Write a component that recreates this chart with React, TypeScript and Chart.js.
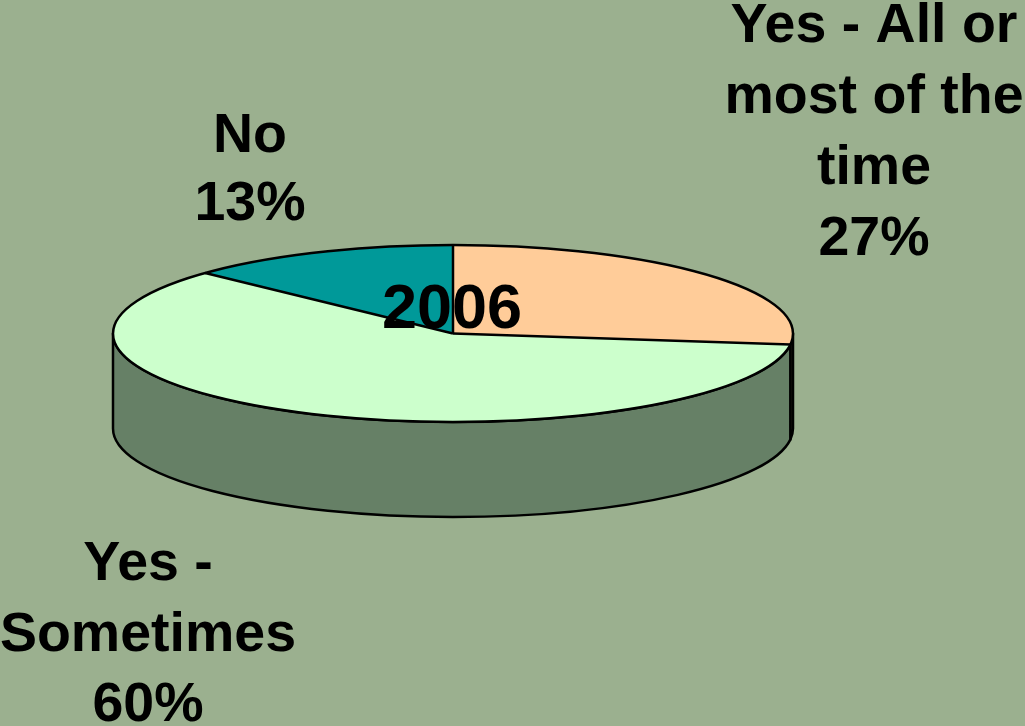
import React, { useEffect, useRef } from "react";
import { Chart, registerables } from "chart.js";

Chart.register(...registerables);

// ---- data ----
const categories = ["Yes - All or most of the time", "Yes - Sometimes", "No"];
const values = [27, 60, 13];
const labelLines = [
  ["Yes - All or", "most of the", "time"],
  ["Yes -", "Sometimes"],
  ["No"],
];
const title = "2006";

// ---- style ----
const W = 1025;
const H = 726;
const BG = "#9bb08f";
const sliceColors = ["#ffcc99", "#ccffcc", "#009999"];
const sideColors = ["#806650", "#668066", "#004c4c"];
const CX = 453;
const CY = 333.5;
const RX = 340;
const RY = 88.5;
const DEPTH = 95;
const FONT = 'bold 55.5px "Liberation Sans", Arial, sans-serif';
const TITLE_FONT = 'bold 63px "Liberation Sans", Arial, sans-serif';
const labelPos = [
  { x: 874, y: 42, lh: 71 },
  { x: 148, y: 580, lh: 70.5 },
  { x: 250, y: 152, lh: 68 },
];

function frontIntervals(s: number, e: number): [number, number][] {
  const out: [number, number][] = [];
  for (const k of [-2, 0, 2]) {
    const lo = Math.max(s, k * Math.PI);
    const hi = Math.min(e, (k + 1) * Math.PI);
    if (hi > lo) out.push([lo - k * Math.PI, hi - k * Math.PI]);
  }
  return out;
}

const pie3d = {
  id: "pie3d",
  beforeDraw(chart: any) {
    const ctx = chart.ctx;
    ctx.save();
    ctx.fillStyle = BG;
    ctx.fillRect(0, 0, chart.width, chart.height);
    ctx.restore();
  },
  beforeDatasetsDraw(chart: any) {
    const ctx = chart.ctx;
    const meta = chart.getDatasetMeta(0);
    // side walls
    meta.data.forEach((arc: any, i: number) => {
      const p = arc.getProps(["startAngle", "endAngle"], true);
      frontIntervals(p.startAngle, p.endAngle).forEach(([a0, a1]) => {
        ctx.save();
        ctx.beginPath();
        ctx.ellipse(CX, CY, RX, RY, 0, a0, a1, false);
        ctx.lineTo(CX + RX * Math.cos(a1), CY + DEPTH + RY * Math.sin(a1));
        ctx.ellipse(CX, CY + DEPTH, RX, RY, 0, a1, a0, true);
        ctx.closePath();
        ctx.fillStyle = sideColors[i];
        ctx.fill();
        ctx.lineWidth = 2.5;
        ctx.strokeStyle = "#000";
        ctx.lineJoin = "round";
        ctx.stroke();
        ctx.restore();
      });
    });
    // squash the top face into an ellipse
    const a = meta.data[0].getProps(["x", "y", "outerRadius"], true);
    ctx.save();
    ctx.translate(CX, CY);
    ctx.scale(RX / a.outerRadius, RY / a.outerRadius);
    ctx.translate(-a.x, -a.y);
  },
  afterDatasetsDraw(chart: any) {
    const ctx = chart.ctx;
    ctx.restore();
    const meta = chart.getDatasetMeta(0);
    ctx.save();
    ctx.strokeStyle = "#000";
    ctx.lineWidth = 2.5;
    ctx.lineJoin = "round";
    ctx.beginPath();
    ctx.ellipse(CX, CY, RX, RY, 0, 0, Math.PI * 2);
    ctx.stroke();
    meta.data.forEach((arc: any) => {
      const p = arc.getProps(["startAngle"], true);
      ctx.beginPath();
      ctx.moveTo(CX, CY);
      ctx.lineTo(CX + RX * Math.cos(p.startAngle), CY + RY * Math.sin(p.startAngle));
      ctx.stroke();
    });
    ctx.restore();
  },
  afterDraw(chart: any) {
    const ctx = chart.ctx;
    ctx.save();
    ctx.fillStyle = "#000";
    ctx.textAlign = "center";
    ctx.textBaseline = "alphabetic";
    ctx.font = TITLE_FONT;
    ctx.fillText(title, 452, 328);
    ctx.font = FONT;
    labelLines.forEach((lines, i) => {
      const all = [...lines, `${values[i]}%`];
      const pos = labelPos[i];
      all.forEach((t, j) => ctx.fillText(t, pos.x, pos.y + j * pos.lh));
    });
    ctx.restore();
  },
};

export default function App() {
  const ref = useRef<HTMLCanvasElement | null>(null);
  useEffect(() => {
    document.body.style.margin = "0";
    document.body.style.background = BG;
    const chart = new Chart(ref.current!, {
      type: "pie",
      data: {
        labels: categories,
        datasets: [
          {
            data: values,
            backgroundColor: sliceColors,
            borderWidth: 0,
            hoverOffset: 0,
          },
        ],
      },
      options: {
        responsive: false,
        animation: false,
        devicePixelRatio: 1,
        layout: { padding: { left: 113, right: 232, top: 23, bottom: 23 } },
        plugins: {
          legend: { display: false },
          tooltip: { enabled: false },
        },
        events: [],
      },
      plugins: [pie3d],
    });
    return () => chart.destroy();
  }, []);
  return (
    <div style={{ position: "fixed", left: 0, top: 0, width: W, height: H }}>
      <canvas ref={ref} width={W} height={H} />
    </div>
  );
}
